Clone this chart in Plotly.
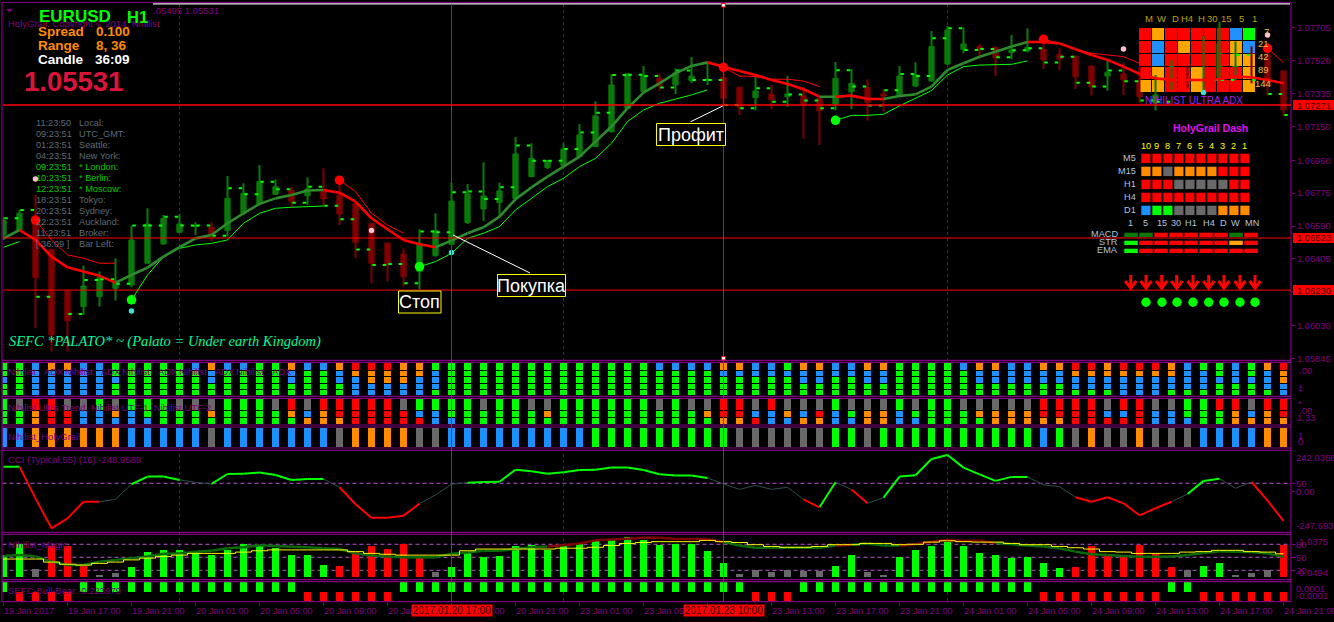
import plotly.graph_objects as go

W, H = 1334, 622
FONT = "Liberation Sans"
PURPLE = "#800080"
TILE = {"G": "#00ff00", "B": "#1e90ff", "O": "#ff8c00", "A": "#ffa500", "R": "#ff0000", "Y": "#696969", "D": "#0b7a0b"}

# ---------------------------------------------------------------- data
# prices are kept in points above 1.05000
BASE_PRICE, POINT = 1.05, 0.00001
opens_pts = [1540,1568,1606,1459,1225,1137,1193,1240,1259,1381,
 1490,1555,1587,1583,1565,1662,1715,1769,1790,1761,
 1784,1765,1715,1606,1495,1433,1334,1424,1488,1610,
 1686,1722,1745,1868,1919,1930,1981,2037,2121,2253,
 2346,2421,2384,2408,2412,2427,2371,2313,2333,2318,
 2324,2309,2275,2346,2369,2333,2322,2378,2406,2502,
 2585,2600,2596,2566,2575,2586,2556,2547,2491,2434,
 2446,2412,2285,2412,2459,2375,2431,2421,2562,2553,
 2463]
closes_pts = [1621,1662,1300,978,1058,1253,1300,1278,1512,1602,
 1634,1602,1591,1540,1746,1775,1840,1812,1728,1799,
 1743,1658,1497,1381,1371,1306,1493,1565,1731,1771,
 1760,1788,1996,1971,1958,2024,2103,2210,2384,2446,
 2440,2378,2450,2434,2416,2309,2258,2350,2300,2333,
 2277,2240,2421,2393,2285,2322,2434,2440,2600,2693,
 2615,2581,2538,2581,2596,2525,2530,2431,2375,2455,
 2412,2318,2328,2487,2412,2459,2618,2600,2431,2378,
 2243]
highs_pts = [1643,1681,1765,1459,1225,1368,1334,1409,1593,1690,
 1653,1658,1611,1611,1872,1831,1934,1853,1812,1863,
 1915,1848,1715,1606,1495,1465,1572,1662,1835,1827,
 1949,1835,2091,2056,1962,2056,2165,2292,2446,2450,
 2491,2450,2478,2541,2515,2487,2371,2446,2384,2434,
 2371,2318,2513,2472,2416,2360,2491,2511,2688,2716,
 2706,2615,2596,2665,2703,2637,2590,2547,2491,2528,
 2511,2487,2440,2525,2487,2660,2740,2628,2600,2618,
 2463]
lows_pts = [1512,1568,1015,884,884,1090,1137,1171,1246,1381,
 1484,1550,1540,1508,1531,1653,1709,1765,1696,1709,
 1700,1596,1409,1268,1278,1250,1235,1418,1484,1602,
 1619,1643,1737,1865,1911,1925,1977,2033,2116,2247,
 2341,2352,2333,2393,2384,2262,2215,2240,2249,2262,
 2082,2046,2240,2249,2183,2234,2318,2371,2403,2496,
 2562,2528,2434,2528,2566,2474,2468,2361,2324,2352,
 2328,2281,2240,2356,2365,2337,2421,2412,2393,2324,
 2206]
trend_pts = [1521,1568,1512,1418,1358,1334,1310,1272,1315,1356,
 1418,1471,1521,1540,1606,1662,1715,1746,1765,1790,
 1793,1778,1728,1634,1572,1512,1488,1471,1508,1550,
 1583,1643,1741,1808,1868,1925,1981,2065,2150,2253,
 2341,2393,2450,2491,2511,2487,2463,2440,2412,2389,
 2360,2318,2318,2324,2305,2305,2322,2331,2375,2468,
 2506,2543,2571,2600,2626,2626,2618,2585,2553,2525,
 2487,2446,2421,2412,2412,2412,2416,2431,2427,2412,
 2393]
trend_state = "GRRRRRRGGG GGGGGGGGGG RRRRRRRGGG GGGGGGGGGG GGGGRRRRRR RGRRRGGGGG GGGGRRRRRR RRRRRRRRRR".replace(" ", "")
N = None
stop_green_pts = [1471,1503,N,N,N,N,N,N,1175,1315,
 1418,1465,1484,1493,1512,1606,1662,1690,1696,1700,
 1703,N,N,N,N,N,1362,1390,1437,1521,
 1550,1587,1681,1746,1812,1859,1925,1971,2056,2178,
 2243,2281,2303,2328,2356,N,N,N,N,N,
 N,N,2185,2213,2213,2219,2266,2309,2352,2440,
 2487,2496,2496,2500,2519,N,N,N,N,N,
 N,N,N,N,N,N,N,N,N,N,
 N]
stop_red_pts = [N,N,1624,1512,1428,1409,1381,1381,N,N,
 N,N,N,N,N,N,N,N,N,N,
 N,1848,1784,1662,1596,1550,N,N,N,N,
 N,N,N,N,N,N,N,N,N,N,
 N,N,N,N,N,2483,2434,2431,2416,2416,
 2406,2375,N,N,N,N,N,N,N,N,
 N,N,N,N,N,2641,2618,2585,2562,2553,
 2543,2506,N,N,N,N,N,N,N,2590,
 2510]
dash_pts = [1634,1681,1193,N,1096,1287,1291,1265,1593,1593,
 1643,1593,1593,1535,1803,1769,1840,1797,1722,1812,
 1705,1628,1459,1371,1377,1268,1559,1555,1780,1784,
 1743,1808,2043,1958,1958,2024,2116,2228,2440,2442,
 2434,2369,2465,2412,2412,2271,2253,2365,2290,2330,
 2296,2253,2466,2375,2268,2354,2446,2434,2646,2703,
 2581,2586,2540,2579,2590,2510,2543,2397,2375,2465,
 2405,2296,2290,2412,2412,2412,2412,2553,2412,2333,
 2215]
red_dot_bars = [2, 21, 45, 65, 79]
green_dot_bars = [8, 26, 52]
pink_bars, pink_pts = [2, 23, 70, 79], [1855, 1565, 2586, 2665]
cyan_bars, cyan_pts = [8, 28, 75], [1113, 1441, 2341]
price_lines = [1.07271, 1.06523, 1.06230]
price_line_labels = ["1.07271", "1.06523", "1.06230"]
price_ticks = [1.07705, 1.07520, 1.07335, 1.07150, 1.06960, 1.06775, 1.06590, 1.06405, 1.06220, 1.06030, 1.05845]
separator_bars = [11, 35, 59]
marked_bars = [28, 45]
marked_labels = ["2017.01.20 17:00", "2017.01.23 10:00"]

adx_cols = ("GGBGG GGGGG BBBBB OBBBB OBBBB BBBBB BBBBB GGBGG GGGGG GGGGG "
 "GGGGG GGGGG BGGGG OBBGG BGGGG BGGGG GGGGG GGGGG OBBGG BGGGG "
 "BGGGG OBBGG ROBBB ROOBB ROOBB OOOBB OOBBB GBBBG GGGGG GGGGG "
 "GGGGG GGGGG GGGGG GGGGG GGGGG GGGGG GGGGG GGGGG GGGGG GGGGG "
 "GGGGG BGGGG BGGGG BGGGG BGGGG OBGGG OBGGG BBGGG BBGGG GBGGG "
 "OBBGG OBBGG BBGGG BBGGG OBBGG OBBGG GGGGG GGGGG GGGGG GGGGG "
 "BGGGG OBBGG OBBGG BBBGG BBBGG OBBGG OBBGG ROBBG ROBBG OOBBG "
 "ROBBB ROBBB ROBBB OOBBG BBBBG GBBBG GGBGG BBBGG GGBGG OBBBG "
 "ROOBB").split()
ut_cols = ("GGG YGG ROO RRR YRR YBB GBB YOB GBB GGB "
 "GGG YGG YGG YOG GGG GGG GGG YGG ROG YBO "
 "ROO RRO RRR RRR RRR YRR GBR GBB GGB GGG "
 "YGG GGG GGG YGG YOG GGG GGG GGG GGG GGG "
 "GGG YGG GGG YGG YOG RRO RRO YBR RBB YOB "
 "YBO YRO GBB YGB YOO YOO GBB YGB GGG GGG "
 "YGG YOG YOO YOO YOO RRO RRO RRR RRR YBR "
 "RBR RRR YBB YBB GGB GGG RGG ROO YBO ROO "
 "RRO").split()
holygrail = "BBOOOOOOBB BBBYBBBBBB BYOOOOYYBB BBBBBBBGGG GGGGGGYYYY YYGGYGGGGG GGGGGBGYOY YOYYYBBBBO O".replace(" ", "")

cci_values = [154,154,-44,-231,-169,-65,-65,-50,44,92,
 92,71,56,46,108,110,117,102,71,77,
 77,25,-81,-165,-165,-152,-77,-23,44,54,
 58,60,135,125,110,119,133,135,148,148,
 133,106,98,98,83,46,12,37,12,25,
 -50,-100,56,12,-75,-40,92,100,202,227,
 148,106,65,90,90,40,29,-37,-65,-37,
 -75,-150,-106,-65,-17,65,79,19,58,-58,
 -185]
cci_state = "GRRRRRNNGG GNNGGGGGGG NRRRRRNNNG GGGGGGGGGG GGGGNNNNNN RGNRNGGGGG GGGGNNNRRR RRRNGGNNRR".replace(" ", "")

magic_bars = [55,80,23,75,75,31,9,14,28,62,
 67,67,62,55,67,80,79,71,55,55,
 32,30,63,76,69,80,52,16,28,59,
 51,53,75,79,67,77,82,88,90,97,
 90,79,80,80,65,37,12,21,16,21,
 19,19,30,55,16,9,51,67,75,85,
 77,60,55,49,51,37,26,28,76,53,
 50,79,58,28,21,30,37,8,14,21,
 79]
magic_colors = "GGYRRRYYGG GGGGGGGGGG GRRRRRRYGG GGGGGGGGGG GGGGGGYYYY YYGGYYGGGG GGGGGGGRRR RRRRYGGYYY R".replace(" ", "")
magic_yellow = [46,46,46,39,34,32,36,39,44,48,
 52,55,59,59,59,62,65,67,67,67,
 67,67,63,59,57,55,55,55,55,65,
 69,69,69,69,69,71,71,73,77,82,
 84,86,86,86,89,86,84,79,75,73,
 73,75,79,79,82,82,79,80,85,88,
 86,85,85,82,79,79,75,72,69,63,
 62,59,59,59,62,63,66,66,63,62,
 58]
magic_dark = [53,55,52,40,32,32,40,44,48,52,
 58,59,63,65,71,73,78,76,74,73,
 71,69,59,54,52,50,50,50,58,61,
 65,65,69,73,75,78,82,89,91,93,
 95,95,92,92,92,85,77,72,72,72,
 72,72,77,79,82,77,77,80,86,90,
 88,88,83,80,77,75,71,63,57,55,
 53,51,51,52,55,60,64,63,62,59,
 51]
magic_state = "GGGGGGGGGG GGGGGGGGGG GGGGGGGGGG GGGGRRRRRR RRRRRGGGGG GGRGGGRRRR RRGGGGGGGG GGGGGGGGGG".replace(" ", "")
magic_levels = [80, 50, 20]
sefc_state = "+----+++++ +++++++++- -----+++++ ++++++++++ +++++++--- ++++++++++ +++++----- ---++----- -".replace(" ", "")

time_labels = ["19 Jan 2017","19 Jan 17:00","19 Jan 21:00","20 Jan 01:00","20 Jan 05:00","20 Jan 09:00","20 Jan 13:00",
 "20 Jan 17:00","20 Jan 21:00","23 Jan 01:00","23 Jan 05:00","23 Jan 09:00","23 Jan 13:00","23 Jan 17:00",
 "23 Jan 21:00","24 Jan 01:00","24 Jan 05:00","24 Jan 09:00","24 Jan 13:00","24 Jan 17:00","24 Jan 21:00"]

clock_times = ["11:23:50","09:23:51","01:23:51","04:23:51","09:23:51","10:23:51","12:23:51","18:23:51","20:23:51","22:23:51","11:23:51","[ 36:09 ]"]
clock_names = ["Local:","UTC_GMT:","Seattle:","New York:","* London:","* Berlin:","* Moscow:","Tokyo:","Sydney:","Auckland:","Broker:","Bar Left:"]
clock_active = [4, 5, 6]

ultra_cols = ["M","W","D","H4","H","30","15","5","1"]
ultra_periods = ["7","21","42","89","144"]
ultra_cells = ["RARRRRRBG","RBRARRRAB","RBRRRRRAA","RARRARRRA","AARRARRRA"]
dash_cols = ["10","9","8","7","6","5","4","3","2","1"]
dash_rows = ["M5","M15","H1","H4","D1"]
dash_cells = ["RRRRRRRRRR","OOYOOOORRR","RRRYYYYYRR","RRRRRRRRRR","BGGYYYYOOO"]
tf_labels = ["1","5","15","30","H1","H4","D","W","MN"]
tf_rows = ["MACD","STR","EMA"]
tf_cells = ["DDRRRRRDR","GRRRRRRAR","GRRRRRRRR"]

# ---------------------------------------------------------------- helpers
n_bars = len(opens_pts)
idx = list(range(n_bars))
price = lambda p: None if p is None else BASE_PRICE + p * POINT
opens = [price(v) for v in opens_pts]
closes = [price(v) for v in closes_pts]
highs = [price(v) for v in highs_pts]
lows = [price(v) for v in lows_pts]
trend = [price(v) for v in trend_pts]
stop_green = [price(v) for v in stop_green_pts]
stop_red = [price(v) for v in stop_red_pts]
dash = [price(v) for v in dash_pts]

px = lambda x: x / W
py = lambda y: 1 - y / H

def segs(vals, states, key):
    xs, ys = [], []
    for i, s in enumerate(states):
        if s == key:
            xs += [i, i + 1, None]
            ys += [vals[i], vals[i + 1], None]
    return xs, ys

# panes in pixels
X0, X1 = 2.5, 1291
PANES = {"y": (3, 360.3), "y2": (362.3, 396.3), "y3": (398.3, 425), "y4": (427, 448),
         "y5": (450.3, 532.3), "y6": (534.3, 579.7), "y7": (581.7, 601.7)}
XRANGE = [(X0 - 3.5) / 16, (X1 - 3.5) / 16]
YRANGE = [1.05835, 1.07845]
bar_at = lambda x: (x - 3.5) / 16
price_at = lambda y: YRANGE[1] - (y - PANES["y"][0]) / (PANES["y"][1] - PANES["y"][0]) * (YRANGE[1] - YRANGE[0])

fig = go.Figure()

def tile_trace(yaxis, heights, bases, colors, width=0.44):
    fig.add_trace(go.Bar(x=idx, y=heights, base=bases, width=width, yaxis=yaxis,
                         marker=dict(color=colors, line=dict(width=0)), hoverinfo="skip", showlegend=False))

# main pane: candles
body_base = [min(o, c) for o, c in zip(opens, closes)]
body_h = [abs(o - c) for o, c in zip(opens, closes)]
body_col = ["#0a7a0a" if c >= o else "#800000" for o, c in zip(opens, closes)]
fig.add_trace(go.Bar(x=idx, y=body_h, base=body_base, width=0.33,
                     marker=dict(color=body_col, line=dict(color=body_col, width=1)), hoverinfo="skip", showlegend=False))

# ultra ADX grid sits over the candle bodies, under wicks and lines
ux = [1139, 1152, 1165, 1178, 1191, 1204, 1217, 1230, 1243]
uy = [28, 40.7, 54, 67, 80]
gx, gb, gh, gc = [], [], [], []
for r, row in enumerate(ultra_cells):
    for c, cell in enumerate(row):
        gx.append(bar_at(ux[c] + 6))
        gb.append(price_at(uy[r] + 12.3))
        gh.append(price_at(uy[r]) - price_at(uy[r] + 12.3))
        gc.append(TILE[cell])
fig.add_trace(go.Bar(x=gx, y=gh, base=gb, width=12 / 16, marker=dict(color=gc, line=dict(width=0)), hoverinfo="skip", showlegend=False))

for col in ("#0a7a0a", "#800000"):
    wx, wy = [], []
    for i in idx:
        if body_col[i] == col:
            wx += [i, i, None]
            wy += [lows[i], highs[i], None]
    fig.add_trace(go.Scatter(x=wx, y=wy, mode="lines", line=dict(color=col, width=2), hoverinfo="skip", showlegend=False))

# dashed step level
dx, dy = [], []
for i, v in enumerate(dash):
    if v is None:
        continue
    dx += [i + 0.05, i + 0.27, None, i + 0.70, i + 0.92, None]
    dy += [v, v, None, v, v, None]
fig.add_trace(go.Scatter(x=dx, y=dy, mode="lines", line=dict(color="#00ff00", width=2), hoverinfo="skip", showlegend=False))

# thin stop lines
for vals, col in ((stop_green, "#00ff00"), (stop_red, "#ff0000")):
    fig.add_trace(go.Scatter(x=idx, y=vals, mode="lines", line=dict(color=col, width=1), hoverinfo="skip", showlegend=False))
# thick trend line
for key, col in (("G", "#2e8b2e"), ("R", "#ff0000")):
    xs, ys = segs(trend, trend_state, key)
    fig.add_trace(go.Scatter(x=xs, y=ys, mode="lines", line=dict(color=col, width=2.6), hoverinfo="skip", showlegend=False))
# signal dots
fig.add_trace(go.Scatter(x=red_dot_bars, y=[stop_red[i] for i in red_dot_bars], mode="markers",
                         marker=dict(color="#ff0000", size=9.5), hoverinfo="skip", showlegend=False))
fig.add_trace(go.Scatter(x=green_dot_bars, y=[stop_green[i] for i in green_dot_bars], mode="markers",
                         marker=dict(color="#00ff00", size=9.5), hoverinfo="skip", showlegend=False))
fig.add_trace(go.Scatter(x=pink_bars, y=[price(v) for v in pink_pts], mode="markers",
                         marker=dict(color="#ffc0cb", size=5.5), hoverinfo="skip", showlegend=False))
fig.add_trace(go.Scatter(x=cyan_bars, y=[price(v) for v in cyan_pts], mode="markers",
                         marker=dict(color="#40e0d0", size=5.5), hoverinfo="skip", showlegend=False))

# tile panes
adx_geom = [(26.6, 6.7), (20.0, 5.3), (13.3, 5.7), (7.3, 5.0), (1.3, 5.0)]
for r, (b, h) in enumerate(adx_geom):
    tile_trace("y2", [h] * n_bars, [b] * n_bars, [TILE[c[r]] for c in adx_cols])
ut_geom = [(15.0, 11.0), (8.3, 5.7), (1.0, 6.0)]
for r, (b, h) in enumerate(ut_geom):
    tile_trace("y3", [h] * n_bars, [b] * n_bars, [TILE[c[r]] for c in ut_cols])
tile_trace("y4", [18.7] * n_bars, [1.3] * n_bars, [TILE[c] for c in holygrail])

# CCI
for key, col, w in (("N", "#2f4f4f", 1), ("G", "#00ff00", 2), ("R", "#ff0000", 2)):
    xs, ys = segs(cci_values, cci_state, key)
    fig.add_trace(go.Scatter(x=xs, y=ys, mode="lines", yaxis="y5", line=dict(color=col, width=w), hoverinfo="skip", showlegend=False))

# Magic
fig.add_trace(go.Bar(x=idx, y=[v - 4.7 for v in magic_bars], base=4.7, width=0.44, yaxis="y6",
                     marker=dict(color=[TILE[c] for c in magic_colors], line=dict(width=0)), hoverinfo="skip", showlegend=False))
for key, col in (("G", "#0b6b0b"), ("R", "#800000")):
    xs, ys = segs(magic_dark, magic_state, key)
    fig.add_trace(go.Scatter(x=xs, y=ys, mode="lines", yaxis="y6", line=dict(color=col, width=2.5), hoverinfo="skip", showlegend=False))
fig.add_trace(go.Scatter(x=idx, y=magic_yellow, mode="lines", yaxis="y6", line=dict(color="#ffff00", width=1, shape="hvh"), hoverinfo="skip", showlegend=False))

# SEFC
fig.add_trace(go.Bar(x=idx, y=[1 if s == "+" else -1 for s in sefc_state], width=0.44, yaxis="y7",
                     marker=dict(color=["#00ff00" if s == "+" else "#ff0000" for s in sefc_state], line=dict(width=0)),
                     hoverinfo="skip", showlegend=False))

# ---------------------------------------------------------------- layout
def dom(name):
    t, b = PANES[name]
    return [py(b), py(t)]

hidden = dict(showgrid=False, zeroline=False, showticklabels=False, showline=False, anchor="x", side="right",
              fixedrange=True, automargin=False)
layout = dict(
    width=W, height=H, margin=dict(l=0, r=0, t=0, b=0, pad=0), autosize=False,
    paper_bgcolor="#000000", plot_bgcolor="#000000", barmode="overlay", bargap=0, showlegend=False,
    font=dict(family=FONT, size=9.5, color=PURPLE),
    xaxis=dict(domain=[px(X0), px(X1)], range=XRANGE, anchor="y7", showgrid=False, zeroline=False, showticklabels=False,
               tickvals=idx[::4], ticks="outside", ticklen=3, tickcolor=PURPLE, tickwidth=1, fixedrange=True, automargin=False),
    yaxis=dict(domain=dom("y"), range=YRANGE, anchor="x", side="right", showgrid=False, zeroline=False,
               tickvals=price_ticks, ticktext=["%.5f" % v for v in price_ticks], ticks="outside", ticklen=3,
               tickcolor=PURPLE, tickfont=dict(size=9.4, color=PURPLE, family=FONT), fixedrange=True, automargin=False),
    yaxis2=dict(domain=dom("y2"), range=[0, 34], **hidden),
    yaxis3=dict(domain=dom("y3"), range=[0, 26.7], **hidden),
    yaxis4=dict(domain=dom("y4"), range=[0, 21], **hidden),
    yaxis5=dict(domain=dom("y5"), range=[-256, 256], tickvals=[50, 0], ticks="outside", ticklen=3, tickcolor=PURPLE, **hidden),
    yaxis6=dict(domain=dom("y6"), range=[-1.7, 103], tickvals=magic_levels, ticks="outside", ticklen=3, tickcolor=PURPLE, **hidden),
    yaxis7=dict(domain=dom("y7"), range=[-1.05, 1.05], **hidden),
)

shapes, annots = [], []

def rect(x0, y0, x1, y1, fill, layer="above", line=None):
    shapes.append(dict(type="rect", xref="paper", yref="paper", x0=px(x0), x1=px(x1), y0=py(y0), y1=py(y1),
                       fillcolor=fill, line=dict(width=0 if line is None else 1, color=line or fill), layer=layer))

def hline(x0, x1, y, color, width=1, layer="above"):
    shapes.append(dict(type="line", xref="paper", yref="paper", x0=px(x0), x1=px(x1), y0=py(y), y1=py(y),
                       line=dict(color=color, width=width), layer=layer))

def seg(x0, y0, x1, y1, color, width=1, layer="above"):
    shapes.append(dict(type="line", xref="paper", yref="paper", x0=px(x0), x1=px(x1), y0=py(y0), y1=py(y1),
                       line=dict(color=color, width=width), layer=layer))

def text(x, y, s, color=PURPLE, size=9.5, anchor="left", family=FONT, **kw):
    annots.append(dict(xref="paper", yref="paper", x=px(x), y=py(y), text=s, showarrow=False, xanchor=anchor, yanchor="middle",
                       font=dict(color=color, size=size, family=family), borderpad=0, **kw))

# pane frames
for name, (t, b) in PANES.items():
    hline(2, X1, t if name != "y" else 2.5, PURPLE, 1.2)
    hline(2, X1, b, PURPLE, 1.2)
seg(2, 2.5, 2, 601.7, PURPLE, 1.2)
seg(X1, 2.5, X1, 601.7, PURPLE, 1.2)
hline(153, X1 - 1, 3.9, "#e8e8e8", 1.2)

# period separators
for b in separator_bars:
    shapes.append(dict(type="line", xref="x", yref="paper", x0=b, x1=b, y0=py(601), y1=py(4),
                       line=dict(color=PURPLE, width=1, dash="3px,3px"), layer="below"))
# level lines
shapes.append(dict(type="line", xref="x", yref="y5", x0=XRANGE[0], x1=XRANGE[1], y0=50, y1=50,
                   line=dict(color="#ba55d3", width=1, dash="4px,3px"), layer="below"))
for lv in magic_levels:
    shapes.append(dict(type="line", xref="x", yref="y6", x0=XRANGE[0], x1=XRANGE[1], y0=lv, y1=lv,
                       line=dict(color="#ba55d3", width=1, dash="4px,3px"), layer="below"))

# price lines and their labels
for i, (v, lab) in enumerate(zip(price_lines, price_line_labels)):
    shapes.append(dict(type="line", xref="paper", yref="y", x0=px(3), x1=px(X1), y0=v, y1=v,
                       line=dict(color="#ff0000", width=1.5 if i == 0 else 1), layer="above"))
    shapes.append(dict(type="rect", xref="paper", yref="y", x0=px(1293), x1=px(1334), y0=v - 5 / 17784, y1=v + 5 / 17784,
                       fillcolor="#ff0000", line=dict(width=0), layer="above"))
    annots.append(dict(xref="paper", yref="y", x=px(1296), y=v, text=lab, showarrow=False, xanchor="left", yanchor="middle",
                       font=dict(color="#4a0000", size=9.4, family=FONT), borderpad=0))

# time axis labels
for k, lab in enumerate(time_labels):
    annots.append(dict(xref="x", yref="paper", x=k * 4, y=py(610.6), text=lab, showarrow=False, xanchor="left", yanchor="middle",
                       font=dict(color=PURPLE, size=9.1, family=FONT), borderpad=0, xshift=-1))

# marked verticals
for b, lab in zip(marked_bars, marked_labels):
    shapes.append(dict(type="line", xref="x", yref="paper", x0=b, x1=b, y0=py(601.7), y1=py(4),
                       line=dict(color="#ff0000", width=1), layer="above"))
    annots.append(dict(xref="x", yref="paper", x=b, y=py(610.6), text=lab, showarrow=False, xanchor="center", yanchor="middle",
                       font=dict(color="#3a0000", size=10, family=FONT), bgcolor="#ff0000", borderpad=0, width=80, height=11))
shapes.append(dict(type="rect", xref="x", yref="paper", x0=44.88, x1=45.12, y0=py(7), y1=py(3.5),
                   fillcolor="#ffffff", line=dict(color="#ff0000", width=1), layer="above"))
shapes.append(dict(type="rect", xref="x", yref="paper", x0=44.88, x1=45.12, y0=py(360), y1=py(356.5),
                   fillcolor="#ffffff", line=dict(color="#ff0000", width=1), layer="above"))

# top-left block
shapes.append(dict(type="path", xref="paper", yref="paper", path="M %f %f L %f %f L %f %f Z" % (px(6), py(9), px(13), py(9), px(9.5), py(12.5)),
                   fillcolor=PURPLE, line=dict(width=0), layer="above"))
text(152, 10.5, ".05495 1.05531")
text(7, 23.5, "HolyGrail, Copyright © 2014, Nihilist", size=9.5)
text(37.5, 17, "<b>EURUSD</b>", "#00ff00", 17)
text(125.5, 17, "<b>H1</b>", "#00ff00", 16.5)
text(37, 31.7, "<b>Spread</b>", "#ff8c00", 13.5)
text(95, 31.7, "<b>0.100</b>", "#ff8c00", 13.5)
text(37, 45.7, "<b>Range</b>", "#ff8c00", 13.5)
text(94.5, 45.7, "<b>8, 36</b>", "#ff8c00", 13.5)
text(37, 59.4, "<b>Candle</b>", "#ffffff", 13.5)
text(94, 59.4, "<b>36:09</b>", "#ffffff", 13.5)
text(22.5, 81.5, "<b>1.05531</b>", "#dc143c", 27.5)

for k, (t, n) in enumerate(zip(clock_times, clock_names)):
    col = "#00c800" if k in clock_active else "#5f6b78"
    text(35, 122.7 + 11 * k, t, col, 9.2)
    text(78, 122.7 + 11 * k, n, col, 9.2)

text(8, 342, "<i>SEFC *PALATO* ~ (Palato = Under earth Kingdom)</i>", "#00fa9a", 14.5, family="Liberation Serif")

# callouts
def callout(x0, y0, x1, y1, s):
    rect(x0, y0, x1, y1, "#000000", line="#ffff00")
    text((x0 + x1) / 2, (y0 + y1) / 2, s, "#ffffff", 18, anchor="center")
seg(453, 235, 530, 273, "#ffffff", 1)
seg(722.7, 106, 690.7, 121.7, "#ffffff", 1)
callout(398.5, 291, 441, 313, "Стоп")
callout(497.5, 274.5, 565.5, 296.5, "Покупка")
callout(656.5, 123.5, 725.5, 145.5, "Профит")

# ultra ADX labels
ulabel_x = [1148.7, 1161.7, 1175.7, 1186.7, 1201.7, 1212.7, 1226, 1241, 1254]
for x, s in zip(ulabel_x, ultra_cols):
    text(x, 18, s, "#b8a010", 9.5, anchor="center")
for y, s in zip([31, 43.5, 57, 70, 83.5], ultra_periods):
    text(1270 if s != "144" else 1272, y, s, "#e0c040", 9.5, anchor="right")
text(1144, 100.5, "NIHILIST ULTRA ADX", "#a020f0", 10)

# HolyGrail dash
text(1172, 128, "<b>HolyGrail Dash</b>", "#e010f0", 10.5)
dx0 = [1141.3 + 11 * k for k in range(10)]
dy0 = [153.7, 166.7, 179.7, 192.7, 205.7]
for x, s in zip(dx0, dash_cols):
    text(x + 4.6, 146, s, "#ffff00", 9.2, anchor="center")
for r, row in enumerate(dash_cells):
    text(1136.5, dy0[r] + 4.7, dash_rows[r], "#b0c4de", 9.2, anchor="right")
    for c, cell in enumerate(row):
        rect(dx0[c], dy0[r], dx0[c] + 9.2, dy0[r] + 9.4, TILE[cell])
for x, s in zip([1130, 1145.7, 1162, 1176, 1190.7, 1209, 1223, 1235.3, 1251.7], tf_labels):
    text(x, 223, s, "#b0c4de", 9.2, anchor="center")
tfy = [232.7, 240.7, 248.7]
for r, row in enumerate(tf_cells):
    text(1119, tfy[r] + 1, tf_rows[r], "#b0c4de", 9.2, anchor="right")
    for c, cell in enumerate(row):
        x0 = 1124.3 + 15 * c
        rect(x0, tfy[r], x0 + 13.5, tfy[r] + 4.3, TILE[cell])
arrow_x = [1130.7, 1146, 1161.7, 1176.7, 1193, 1208.7, 1224, 1240, 1255]
for x in arrow_x:
    seg(x, 275, x, 288, "#ff0000", 3)
    shapes.append(dict(type="path", xref="paper", yref="paper",
                       path="M %f %f L %f %f L %f %f" % (px(x - 5.5), py(281), px(x), py(288), px(x + 5.5), py(281)),
                       line=dict(color="#ff0000", width=3), layer="above"))
for x in [1146, 1162, 1177, 1193, 1208.7, 1224, 1240, 1255]:
    shapes.append(dict(type="circle", xref="paper", yref="paper", x0=px(x - 4.7), x1=px(x + 4.7), y0=py(307), y1=py(297.6),
                       fillcolor="#00ff00", line=dict(width=0), layer="above"))

# pane titles
for k in range(5):
    text(7.3 + 57 * k, 371.7, "Nihilist&nbsp;&nbsp;&nbsp;ADX", size=9.5)
text(7.3, 407.3, "Nihilist Ultra Trend&nbsp;&nbsp;Nihilist UTF-1&nbsp;&nbsp;Nihilist UTF-2", size=9.5)
text(7.3, 436.5, "Nihilist_HolyGrail", size=9.5)
text(7.3, 459.7, "CCI (Typical,55) (16) -248.9589", size=9.5)
text(7.3, 544, "NIhilist_Magic", size=9.5)
text(7.3, 590.7, "SEFC-Bull-Bear -0.223979", size=9.5)

# sub-pane scale labels
for x, y, s in [(1298, 370, ".00"), (1297, 388, "‡"), (1297, 403, "*"), (1298, 410, ".00"), (1296, 418, "1.33"),
                (1297, 435, "1"), (1297, 441.7, "0"),
                (1295, 457.7, "242.0356"), (1295, 483.3, "50"), (1295, 491.3, "0.00"), (1295, 525.7, "-247.6935"),
                (1298, 541.7, "1.0375"), (1295, 544.3, "80"), (1295, 557.3, "50"), (1295, 570.3, "20"), (1298, 572.7, "0.0494"),
                (1295, 588, "0.0001"), (1295, 595, "-0.0001")]:
    text(x, y, s)

layout["shapes"] = shapes
layout["annotations"] = annots
fig.update_layout(**layout)

fig.write_html("out.html", config={"displayModeBar": False, "staticPlot": True},
               post_script="document.body.style.margin='0';document.body.style.background='#000';document.documentElement.style.overflow='hidden';")
